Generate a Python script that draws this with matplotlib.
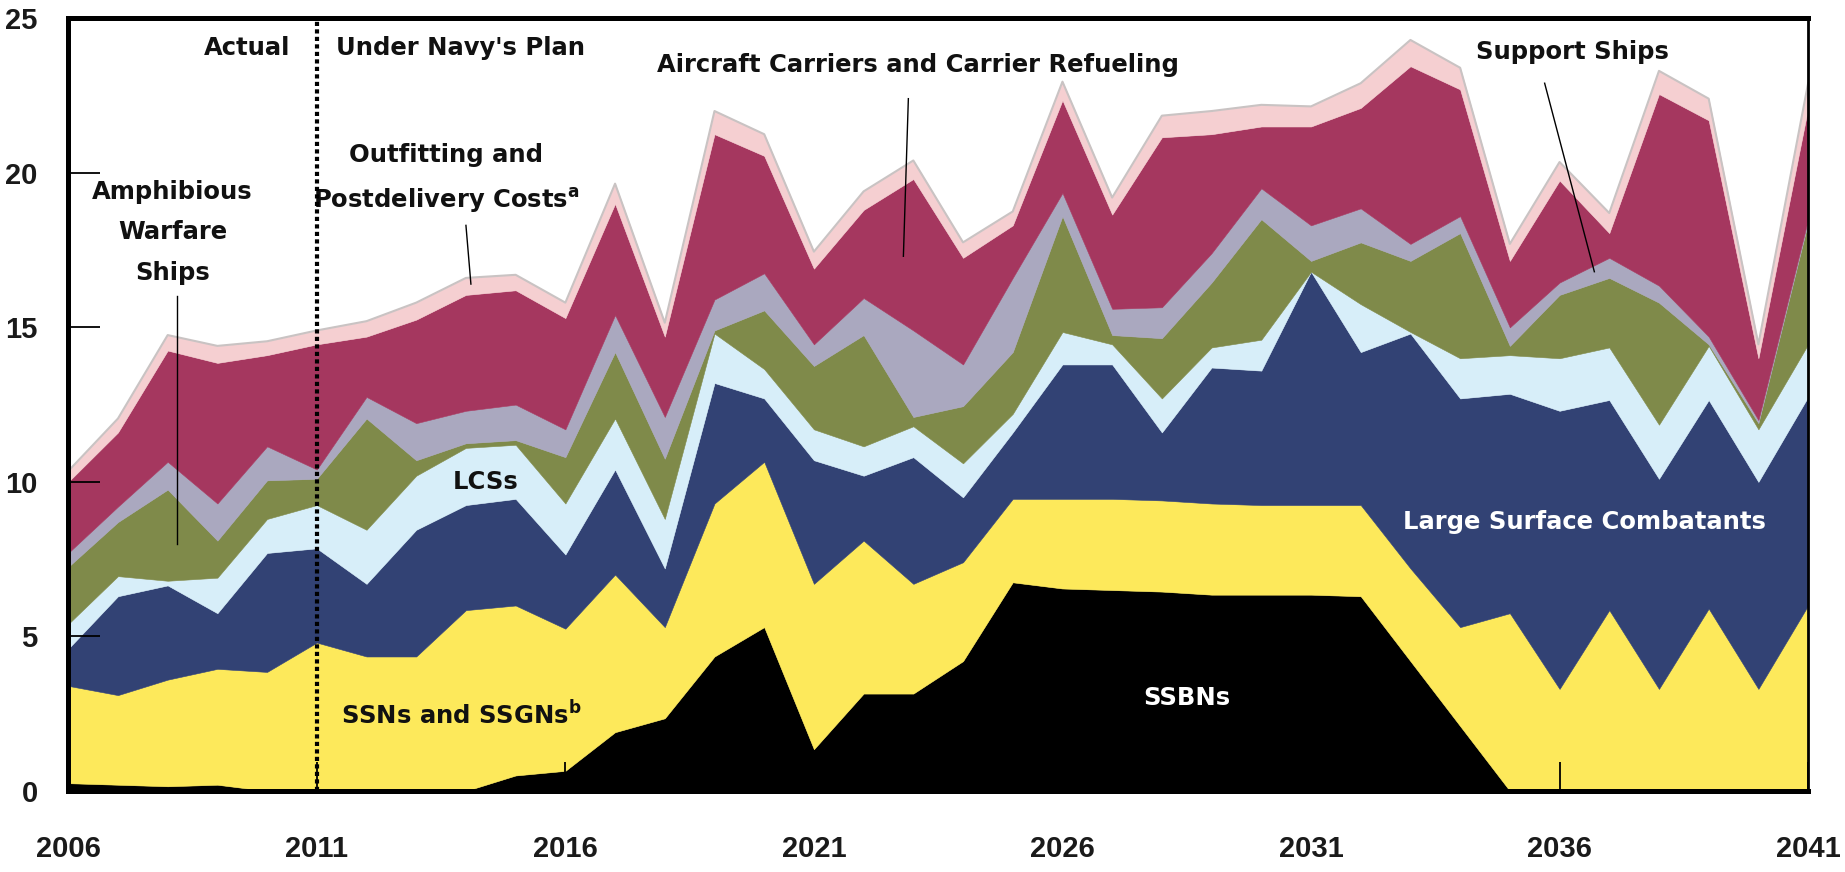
#===============================================================================
# Navy shipbuilding costs, stacked area chart
#===============================================================================
import numpy as np
import matplotlib
matplotlib.use("Agg")
import matplotlib.pyplot as plt

#===============================================================================
# Data (billions of dollars per year)
#===============================================================================
years = list(range(2006, 2042))

ssbns = [0.25, 0.2, 0.15, 0.2, 0.0, 0.0, 0.0, 0.0, 0.0, 0.5, 0.65, 1.9, 2.35, 4.35,
         5.3, 1.35, 3.15, 3.15, 4.2, 6.75, 6.55, 6.5, 6.45, 6.35, 6.35, 6.35, 6.3,
         4.2, 2.1, 0.0, 0.0, 0.0, 0.0, 0.0, 0.0, 0.0]
ssns = [3.15, 2.9, 3.45, 3.75, 3.85, 4.8, 4.35, 4.35, 5.85, 5.5, 4.6, 5.1, 2.95, 4.95,
        5.35, 5.35, 4.95, 3.55, 3.2, 2.7, 2.9, 2.95, 2.95, 2.95, 2.9, 2.9, 2.95,
        3.0, 3.2, 5.75, 3.3, 5.85, 3.3, 5.9, 3.3, 6.0]
large_surface = [1.2, 3.2, 3.05, 1.8, 3.85, 3.05, 2.35, 4.1, 3.4, 3.45, 2.4, 3.4, 1.9,
                 3.9, 2.05, 4.0, 2.1, 4.1, 2.1, 2.15, 4.35, 4.35, 2.2, 4.4, 4.35, 7.55,
                 4.95, 7.6, 7.4, 7.1, 9.0, 6.8, 6.8, 6.75, 6.7, 6.75]
lcss = [0.8, 0.65, 0.15, 1.15, 1.1, 1.4, 1.75, 1.75, 1.85, 1.75, 1.65, 1.65, 1.6, 1.6,
        0.95, 1.0, 0.95, 1.0, 1.1, 0.6, 1.05, 0.65, 1.1, 0.65, 1.0, 0.0, 1.55, 0.05,
        1.3, 1.25, 1.7, 1.7, 1.75, 1.75, 1.7, 1.7]
amphibious = [1.85, 1.75, 2.95, 1.2, 1.25, 0.85, 3.6, 0.5, 0.15, 0.15, 1.5, 2.15, 1.95,
              0.1, 1.9, 2.05, 3.6, 0.3, 1.85, 2.0, 3.75, 0.3, 1.95, 2.1, 3.9, 0.35,
              2.0, 2.3, 4.05, 0.3, 2.05, 2.25, 3.95, 0.05, 0.2, 3.95]
support = [0.45, 0.5, 0.9, 1.2, 1.1, 0.3, 0.7, 1.2, 1.05, 1.15, 0.9, 1.2, 1.35, 1.0,
           1.2, 0.7, 1.2, 2.8, 1.35, 2.4, 0.75, 0.85, 1.0, 0.95, 1.0, 1.15, 1.1, 0.55,
           0.55, 0.6, 0.4, 0.65, 0.55, 0.25, 0.1, 0.1]
carriers = [2.3, 2.4, 3.6, 4.55, 2.95, 4.05, 1.95, 3.35, 3.75, 3.7, 3.6, 3.6, 2.6, 5.35,
            3.8, 2.45, 2.85, 4.9, 3.45, 1.7, 3.0, 3.05, 5.5, 3.85, 2.0, 3.2, 3.25,
            5.75, 4.1, 2.15, 3.3, 0.8, 6.2, 7.0, 2.0, 3.6]
outfitting = [0.35, 0.45, 0.5, 0.55, 0.45, 0.45, 0.5, 0.55, 0.55, 0.5, 0.5, 0.65, 0.45,
              0.75, 0.7, 0.55, 0.6, 0.6, 0.5, 0.45, 0.6, 0.55, 0.7, 0.75, 0.7, 0.65,
              0.8, 0.85, 0.7, 0.55, 0.6, 0.65, 0.75, 0.7, 0.45, 0.8]

colors = ["#000000", "#fde95b", "#324274", "#d7eef9", "#7f8a4a", "#aaa8bf",
          "#a5375f", "#f5cfd1"]
year_ticks = [2006, 2011, 2016, 2021, 2026, 2031, 2036, 2041]
value_ticks = [0, 5, 10, 15, 20, 25]

#===============================================================================
# Plot
#===============================================================================
fig = plt.figure(figsize=(18.45, 8.72), dpi=100)
ax = fig.add_axes([0.037, 0.093, 0.943, 0.886])

series = [ssbns, ssns, large_surface, lcss, amphibious, support, carriers, outfitting]
polys = ax.stackplot(years, *series, colors=colors)
for p, c in zip(polys, colors):
    p.set_edgecolor(c)
    p.set_linewidth(0.4)

# grey outline along the top of the stack
total = np.sum(np.array(series), axis=0)
ax.plot(years, total, color="#c9c3c3", lw=1.5)

ax.set_xlim(2006, 2041)
ax.set_ylim(0, 25)
ax.set_xticks(year_ticks)
ax.set_yticks(value_ticks)
ax.tick_params(axis="y", direction="in", length=23, width=1.3, pad=22,
               labelsize=21, color="black", labelcolor="#1a1a1a")
ax.tick_params(axis="x", direction="in", length=21, width=1.3, pad=32,
               labelsize=21, color="black", labelcolor="#1a1a1a")
for lab in ax.get_xticklabels() + ax.get_yticklabels():
    lab.set_fontweight("bold")
    lab.set_family("Liberation Sans")
for name, s in ax.spines.items():
    s.set_linewidth(2.0 if name == "right" else 3.6)
    s.set_zorder(5)

# actual / plan divider
ax.axvline(2011, color="black", lw=3, ls=(0, (1, 0.8)), zorder=4)

kw = dict(fontsize=17.5, fontweight="bold", color="#111111", ha="center", va="center")
ax.text(2009.6, 24.05, "Actual", **kw)
ax.text(2013.9, 24.05, "Under Navy's Plan", **kw)
ax.text(2023.1, 23.5, "Aircraft Carriers and Carrier Refueling", **kw)
ax.text(2036.25, 23.9, "Support Ships", **kw)
ax.text(2013.6, 19.8, "Outfitting and\nPostdelivery Costs$^{\\mathbf{a}}$",
        linespacing=1.85, **kw)
ax.text(2008.1, 18.07, "Amphibious\nWarfare\nShips", linespacing=1.85, **kw)
ax.text(2014.4, 10.0, "LCSs", **kw)
ax.text(2013.9, 2.45, "SSNs and SSGNs$^{\\mathbf{b}}$", **kw)
ax.text(2028.5, 3.0, "SSBNs", **dict(kw, color="white"))
ax.text(2036.5, 8.7, "Large Surface Combatants", **dict(kw, color="white"))

# leader lines
ax.plot([2008.18, 2008.18], [16.0, 8.0], color="black", lw=1)
ax.plot([2014.0, 2014.1], [18.3, 16.4], color="black", lw=1)
ax.plot([2022.9, 2022.8], [22.4, 17.3], color="black", lw=1)
ax.plot([2035.7, 2036.7], [22.9, 16.8], color="black", lw=1)

plt.savefig("out.png", dpi=100)
